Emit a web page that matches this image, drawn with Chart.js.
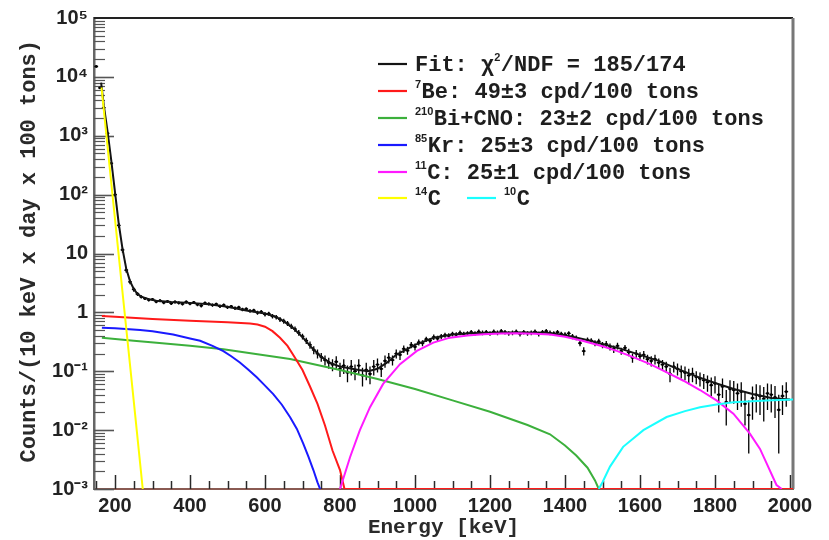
<!DOCTYPE html>
<html><head><meta charset="utf-8">
<script src="https://cdn.jsdelivr.net/npm/chart.js@4.4.1/dist/chart.umd.min.js"></script>
<style>html,body{margin:0;padding:0;background:#fff}#wrap{width:829px;height:540px}</style>
</head><body><div id="wrap"><canvas id="c" width="829" height="540"></canvas></div>
<script>
// ---------------- data ----------------
const xTitle = 'Energy [keV]';
const yTitle = 'Counts/(10 keV x day x 100 tons)';
const xTickValues = [200,400,600,800,1000,1200,1400,1600,1800,2000];
const xTickLabels = ['200','400','600','800','1000','1200','1400','1600','1800','2000'];
const yTickValues = [1e-3,1e-2,1e-1,1,10,1e2,1e3,1e4,1e5];
const yTickLabels = ['10\u207B\u00B3','10\u207B\u00B2','10\u207B\u00B9','1','10','10\u00B2','10\u00B3','10\u2074','10\u2075'];

// measured spectrum (10 keV bins)
const dataE = [
 150,160,170,180,190,200,210,220,230,240,
 250,260,270,280,290,300,310,320,330,340,
 350,360,370,380,390,400,410,420,430,440,
 450,460,470,480,490,500,510,520,530,540,
 550,560,570,580,590,600,610,620,630,640,
 650,660,670,680,690,700,710,720,730,740,
 750,760,770,780,790,800,810,820,830,840,
 850,860,870,880,890,900,910,920,930,940,
 950,960,970,980,990,1000,1010,1020,1030,1040,
 1050,1060,1070,1080,1090,1100,1110,1120,1130,1140,
 1150,1160,1170,1180,1190,1200,1210,1220,1230,1240,
 1250,1260,1270,1280,1290,1300,1310,1320,1330,1340,
 1350,1360,1370,1380,1390,1400,1410,1420,1430,1440,
 1450,1460,1470,1480,1490,1500,1510,1520,1530,1540,
 1550,1560,1570,1580,1590,1600,1610,1620,1630,1640,
 1650,1660,1670,1680,1690,1700,1710,1720,1730,1740,
 1750,1760,1770,1780,1790,1800,1810,1820,1830,1840,
 1850,1860,1870,1880,1890,1900,1910,1920,1930,1940,
 1950,1960,1970,1980,1990];
const dataCounts = [
 15000,6500,3000,1100,340,100,30,11.5,5.2,3.3,
 2.45,2.05,1.84,1.72,1.63,1.66,1.52,1.58,1.47,1.53,
 1.42,1.50,1.45,1.39,1.50,1.41,1.47,1.36,1.30,1.44,
 1.39,1.33,1.38,1.27,1.33,1.22,1.26,1.18,1.21,1.12,
 1.14,1.06,1.08,0.99,1.02,0.93,0.95,0.86,0.83,0.76,
 0.71,0.65,0.58,0.52,0.45,0.39,0.33,0.28,0.23,0.20,
 0.175,0.155,0.14,0.13,0.145,0.11,0.125,0.095,0.12,0.10,
 0.125,0.085,0.105,0.09,0.12,0.13,0.11,0.15,0.17,0.155,
 0.20,0.19,0.24,0.225,0.28,0.26,0.31,0.30,0.35,0.33,
 0.38,0.36,0.39,0.41,0.40,0.43,0.42,0.45,0.43,0.44,
 0.46,0.44,0.47,0.45,0.46,0.44,0.47,0.45,0.48,0.46,
 0.44,0.45,0.47,0.43,0.46,0.44,0.45,0.47,0.43,0.46,
 0.48,0.45,0.44,0.46,0.43,0.42,0.44,0.39,0.37,0.30,
 0.22,0.34,0.33,0.30,0.32,0.28,0.29,0.26,0.24,0.27,
 0.22,0.25,0.21,0.17,0.20,0.18,0.19,0.16,0.15,0.16,
 0.14,0.13,0.12,0.09,0.12,0.11,0.10,0.095,0.085,0.09,
 0.08,0.075,0.07,0.065,0.058,0.062,0.040,0.055,0.030,0.050,
 0.048,0.042,0.045,0.028,0.018,0.035,0.040,0.038,0.034,0.042,
 0.040,0.036,0.022,0.038,0.045];
const dataErr = [
 150,80,50,30,15,7,3,1.2,0.5,0.3,
 0.2,0.15,0.12,0.1,0.1,0.1,0.09,0.09,0.09,0.09,
 0.085,0.085,0.085,0.085,0.085,0.085,0.085,0.085,0.085,0.085,
 0.08,0.08,0.08,0.08,0.08,0.08,0.08,0.08,0.08,0.08,
 0.075,0.075,0.075,0.075,0.075,0.075,0.075,0.075,0.075,0.075,
 0.07,0.065,0.06,0.055,0.05,0.045,0.04,0.04,0.035,0.035,
 0.03,0.03,0.03,0.03,0.035,0.03,0.035,0.03,0.035,0.03,
 0.035,0.03,0.035,0.03,0.035,0.035,0.03,0.035,0.035,0.03,
 0.035,0.035,0.035,0.035,0.035,0.035,0.035,0.035,0.035,0.035,
 0.04,0.04,0.04,0.04,0.04,0.04,0.04,0.04,0.04,0.04,
 0.04,0.04,0.04,0.04,0.04,0.04,0.04,0.04,0.04,0.04,
 0.04,0.04,0.04,0.04,0.04,0.04,0.04,0.04,0.04,0.04,
 0.04,0.04,0.04,0.04,0.04,0.04,0.04,0.04,0.035,0.035,
 0.035,0.035,0.035,0.035,0.035,0.035,0.035,0.035,0.035,0.035,
 0.03,0.03,0.03,0.03,0.03,0.03,0.03,0.03,0.03,0.03,
 0.025,0.025,0.025,0.025,0.025,0.025,0.025,0.025,0.025,0.025,
 0.02,0.02,0.02,0.02,0.02,0.02,0.02,0.02,0.018,0.02,
 0.02,0.02,0.02,0.016,0.014,0.02,0.02,0.02,0.02,0.02,
 0.02,0.02,0.018,0.02,0.02];

// total fit
const fitE = [163,170,180,190,200,210,220,230,240,250,260,270,290,310,350,400,450,500,550,600,625,650,675,700,725,750,775,800,825,850,875,900,925,950,975,1000,1050,1100,1150,1200,1250,1300,1350,1400,1450,1500,1550,1600,1650,1700,1750,1800,1850,1900,1950,2000];
const fitV = [8000,3300,1200,380,110,32,12,5.5,3.4,2.5,2.05,1.85,1.68,1.58,1.5,1.45,1.38,1.25,1.08,0.96,0.86,0.71,0.54,0.38,0.25,0.175,0.138,0.12,0.112,0.105,0.1,0.11,0.14,0.19,0.23,0.28,0.37,0.42,0.44,0.45,0.455,0.455,0.45,0.41,0.35,0.29,0.24,0.19,0.15,0.11,0.082,0.063,0.05,0.041,0.035,0.033];

// components
const be7E = [165,200,300,400,500,560,580,600,620,640,660,680,700,720,740,760,780,800,812,2008];
const be7V = [0.87,0.84,0.77,0.72,0.68,0.645,0.62,0.57,0.48,0.37,0.27,0.17,0.105,0.055,0.028,0.012,0.0045,0.0021,0.001,0.001];
const bi210E = [165,250,311,400,489,580,667,700,800,900,1000,1100,1200,1300,1360,1400,1430,1460,1480,1490];
const bi210V = [0.37,0.33,0.306,0.27,0.237,0.195,0.161,0.145,0.105,0.074,0.05,0.032,0.0205,0.0122,0.0085,0.0055,0.0037,0.0023,0.0014,0.001];
const kr85E = [165,200,267,300,355,400,427,460,489,510,533,555,578,600,622,645,667,685,702,716,729,740,747];
const kr85V = [0.55,0.54,0.50,0.48,0.42,0.36,0.33,0.27,0.22,0.18,0.141,0.107,0.079,0.057,0.041,0.027,0.0166,0.0105,0.0059,0.0035,0.0021,0.0013,0.001];
const c11E = [800,827,853,880,915,960,1005,1049,1093,1140,1182,1230,1271,1320,1360,1400,1449,1500,1538,1580,1627,1670,1716,1760,1804,1849,1893,1920,1938,1964,1978];
const c11V = [0.001,0.0035,0.010,0.0245,0.061,0.132,0.222,0.306,0.372,0.405,0.425,0.437,0.44,0.435,0.42,0.385,0.327,0.265,0.222,0.175,0.132,0.097,0.069,0.048,0.032,0.019,0.0087,0.0048,0.0027,0.00117,0.001];
const c14E = [164,190,220,250,274];
const c14V = [6600,160,2.2,0.031,0.001];
const c10E = [1490,1500,1520,1555,1609,1671,1720,1760,1800,1849,1900,1938,2008];
const c10V = [0.001,0.0013,0.0024,0.0052,0.010,0.0167,0.021,0.0245,0.027,0.0297,0.031,0.032,0.033];

// legend texts: [text, isSuperscript]
const legendFit  = [['Fit: ',0],['\u03C7',0],['2',1],['/NDF = 185/174',0]];
const legendBe7  = [['7',1],['Be: 49\u00B13 cpd/100 tons',0]];
const legendBi   = [['210',1],['Bi+CNO: 23\u00B12 cpd/100 tons',0]];
const legendKr   = [['85',1],['Kr: 25\u00B13 cpd/100 tons',0]];
const legendC11  = [['11',1],['C: 25\u00B11 cpd/100 tons',0]];
const legendC14  = [['14',1],['C',0]];
const legendC10  = [['10',1],['C',0]];

// ---------------- styles ----------------
const COL = {fit:'#141414', be:'#ff1a1a', bi:'#3cb03c', kr:'#1a1aff', c11:'#ff1aff', c14:'#ffff00', c10:'#1affff'};
const pts = (E, V) => E.map((e, i) => ({x: e, y: V[i]}));
const MONO = '"Liberation Mono", "Courier New", monospace';
const SANS = '"Liberation Sans", Arial, Helvetica, sans-serif';

function lineDS(label, E, V, color, order) {
  return {type:'line', label, data: pts(E, V), borderColor: color, backgroundColor: color,
          borderWidth: 2, pointRadius: 0, tension: 0, fill: false, order};
}

const decor = {
  id: 'decor',
  beforeDatasetsDraw(chart) {
    const {ctx, chartArea: a, scales: {x, y}} = chart;
    ctx.save();
    // x ticks (inside)
    ctx.strokeStyle = '#2a2a2a'; ctx.lineWidth = 1.5;
    for (let v = 150; v <= 2000; v += 50) {
      const px = Math.round(x.getPixelForValue(v)) + 0.5;
      const len = (v % 200 === 0) ? 14 : 8;
      ctx.beginPath(); ctx.moveTo(px, a.bottom); ctx.lineTo(px, a.bottom - len); ctx.stroke();
    }
    // y ticks (inside)
    ctx.strokeStyle = '#555';
    for (let d = -3; d <= 4; d++) {
      for (let m = 1; m <= 9; m++) {
        const v = m * Math.pow(10, d);
        const py = Math.round(y.getPixelForValue(v)) + 0.5;
        const len = m === 1 ? 20 : 11;
        ctx.lineWidth = m === 1 ? 1.6 : 1.2;
        ctx.beginPath(); ctx.moveTo(a.left, py); ctx.lineTo(a.left + len, py); ctx.stroke();
      }
    }
    // frame top & right
    ctx.strokeStyle = '#222'; ctx.lineWidth = 2;
    ctx.beginPath(); ctx.moveTo(a.left, a.top); ctx.lineTo(a.right, a.top); ctx.stroke();
    ctx.strokeStyle = '#777'; ctx.lineWidth = 3;
    ctx.beginPath(); ctx.moveTo(a.right, a.top); ctx.lineTo(a.right, a.bottom); ctx.stroke();
    // y title
    ctx.fillStyle = '#2a2a2a';
    ctx.font = 'bold 22px ' + MONO;
    ctx.translate(29, 40); ctx.rotate(-Math.PI / 2);
    ctx.textAlign = 'right'; ctx.textBaseline = 'middle';
    ctx.fillText(yTitle, 0, 0);
    ctx.restore();
  },
  afterDatasetDraw(chart, args) {
    if (args.index !== 0) return;
    const {ctx, chartArea: a, scales: {x, y}} = chart;
    ctx.save();
    ctx.beginPath(); ctx.rect(a.left, a.top, a.right - a.left, a.bottom - a.top); ctx.clip();
    ctx.strokeStyle = '#000'; ctx.lineWidth = 1.3;
    dataE.forEach((e, i) => {
      const v = dataCounts[i], er = dataErr[i];
      const px = x.getPixelForValue(e);
      const yHi = y.getPixelForValue(v + er);
      const yLo = y.getPixelForValue(Math.max(v - er, 1e-4));
      const py = y.getPixelForValue(v);
      ctx.beginPath();
      ctx.moveTo(px, yHi); ctx.lineTo(px, yLo);
      ctx.moveTo(x.getPixelForValue(e - 5), py); ctx.lineTo(x.getPixelForValue(e + 5), py);
      ctx.stroke();
    });
    ctx.restore();
  },
  afterDatasetsDraw(chart) {
    const {ctx} = chart;
    ctx.save();
    const rows = [
      [legendFit, COL.fit, 378, 64],
      [legendBe7, COL.be, 378, 91],
      [legendBi, COL.bi, 378, 118],
      [legendKr, COL.kr, 378, 145],
      [legendC11, COL.c11, 378, 172],
      [legendC14, COL.c14, 378, 198],
      [legendC10, COL.c10, 467, 198]
    ];
    for (const [parts, color, lx, ly] of rows) {
      ctx.strokeStyle = color; ctx.lineWidth = 2.2;
      ctx.beginPath(); ctx.moveTo(lx, ly); ctx.lineTo(lx + 29, ly); ctx.stroke();
      let tx = lx + 37;
      ctx.fillStyle = '#1e1e1e'; ctx.textBaseline = 'middle'; ctx.textAlign = 'left';
      for (const [t, sup] of parts) {
        ctx.font = sup ? 'bold 11px ' + SANS : 'bold 22px ' + MONO;
        ctx.fillText(t, tx, sup ? ly - 6 : ly + 1);
        tx += ctx.measureText(t).width + (sup ? 0.5 : 0);
      }
    }
    ctx.restore();
  }
};

const datasets = [
  {type:'scatter', label:'Data', data: pts(dataE, dataCounts), pointRadius: 1.4, pointHoverRadius: 1.4,
   pointBackgroundColor:'#000', pointBorderWidth: 0, showLine: false, order: 20},
  lineDS('Fit', fitE, fitV, COL.fit, 19),
  lineDS('210Bi+CNO', bi210E, bi210V, COL.bi, 8),
  lineDS('85Kr', kr85E, kr85V, COL.kr, 7),
  lineDS('7Be', be7E, be7V, COL.be, 6),
  lineDS('11C', c11E, c11V, COL.c11, 5),
  lineDS('10C', c10E, c10V, COL.c10, 4),
  lineDS('14C', c14E, c14V, COL.c14, 3)
];

new Chart(document.getElementById('c'), {
  data: {datasets},
  options: {
    responsive: false, animation: false, devicePixelRatio: 1,
    layout: {padding: {left: 0, right: 36, top: 15, bottom: 0}},
    plugins: {legend: {display: false}, tooltip: {enabled: false}},
    scales: {
      x: {
        type: 'linear', position: 'bottom', min: 144, max: 2008,
        afterBuildTicks: s => { s.ticks = xTickValues.map(v => ({value: v})); },
        afterFit: s => { s.height = 51; },
        ticks: {callback: (v) => xTickLabels[xTickValues.indexOf(v)], maxRotation: 0, autoSkip: false,
                padding: 5, color: '#222', font: {family: SANS, size: 20, weight: 'bold'}},
        grid: {display: false, drawTicks: false},
        border: {display: true, color: '#8a5a52', width: 2},
        title: {display: true, text: xTitle, color: '#2a2a2a', padding: {top: 0, bottom: 0},
                font: {family: MONO, size: 21, weight: 'bold'}}
      },
      y: {
        type: 'logarithmic', position: 'left', min: 1e-3, max: 1e5,
        afterBuildTicks: s => { s.ticks = yTickValues.map(v => ({value: v})); },
        afterFit: s => { s.width = 94; },
        ticks: {callback: (v) => yTickLabels[yTickValues.findIndex(t => Math.abs(t - v) / t < 1e-6)],
                autoSkip: false, padding: 6, color: '#222', font: {family: SANS, size: 20, weight: 'bold'}},
        grid: {display: false, drawTicks: false},
        border: {display: true, color: '#666', width: 2.5}
      }
    }
  },
  plugins: [decor]
});
</script>
</body></html>
